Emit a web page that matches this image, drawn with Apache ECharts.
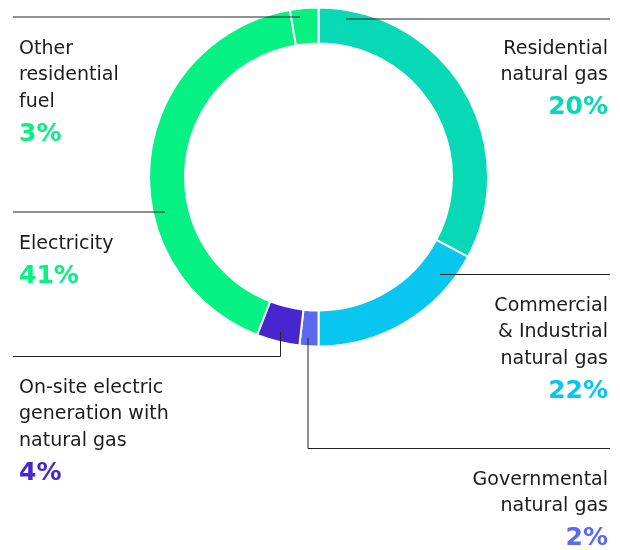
<!DOCTYPE html>
<html>
<head>
<meta charset="utf-8">
<script src="https://cdn.jsdelivr.net/npm/echarts@6/dist/echarts.min.js"></script>
<style>
  html, body { margin: 0; padding: 0; background: #fff; }
  #chart { width: 620px; height: 550px; }
</style>
</head>
<body>
<div id="chart"></div>
<script>
// data, clockwise from 12 o'clock
var categories = [
    'Residential\nnatural gas',
    'Commercial\n& Industrial\nnatural gas',
    'Governmental\nnatural gas',
    'On-site electric\ngeneration with\nnatural gas',
    'Electricity',
    'Other\nresidential\nfuel'
];
var arcShares = [32.8, 17.2, 1.8, 4.1, 41.4, 2.7];      // size of each arc as drawn
var shownPercents = ['20%', '22%', '2%', '4%', '41%', '3%'];  // printed labels

var palette = ['#07d8b5', '#08c6ef', '#5b68f0', '#4526cf', '#06f183', '#08f081'];

// where each label block sits and how its leader line runs
var labelSpots = [
    { x: 608, y: 35.5,  align: 'right', line: [[346, 19], [478, 19], [610, 19]] },
    { x: 608, y: 292.5, align: 'right', line: [[440, 274.5], [525, 274.5], [610, 274.5]] },
    { x: 608, y: 466.5, align: 'right', line: [[308, 338], [308, 448.5], [610, 448.5]] },
    { x: 19,  y: 374.5, align: 'left',  line: [[280.5, 332], [280.5, 356.5], [13, 356.5]] },
    { x: 19,  y: 230.5, align: 'left',  line: [[165, 212], [90, 212], [13, 212]] },
    { x: 19,  y: 35.5,  align: 'left',  line: [[300, 17], [150, 17], [13, 17]] }
];

function buildData(filled) {
    return categories.map(function (name, i) {
        return {
            name: name,
            value: arcShares[i],
            itemStyle: { color: filled ? palette[i] : 'transparent' },
            label: { rich: { p: { color: palette[i] } } }
        };
    });
}

var myChart = echarts.init(document.getElementById('chart'));

var ringCommon = {
    type: 'pie',
    center: [318.5, 177],
    radius: [133.5, 169.5],
    startAngle: 90,
    clockwise: true,
    avoidLabelOverlap: false,
    silent: true
};

var option = {
    animation: false,
    series: [
        // the coloured ring
        Object.assign({}, ringCommon, {
            z: 2,
            itemStyle: { borderColor: '#fff', borderWidth: 2 },
            label: { show: false },
            labelLine: { show: false },
            data: buildData(true)
        }),
        // invisible copy on top, carrying labels and leader lines
        Object.assign({}, ringCommon, {
            z: 4,
            itemStyle: { borderWidth: 0 },
            label: {
                show: true,
                position: 'outside',
                fontFamily: 'DejaVu Sans',
                formatter: function (params) {
                    var lines = params.name.split('\n').map(function (t) {
                        return '{n|' + t + '}';
                    });
                    return lines.join('\n') + '\n{p|' + shownPercents[params.dataIndex] + '}';
                },
                rich: {
                    n: { fontFamily: 'DejaVu Sans', fontSize: 19, lineHeight: 26.5, color: '#1b1b1b' },
                    p: { fontFamily: 'DejaVu Sans', fontSize: 25, fontWeight: 'bold', lineHeight: 38.5 }
                }
            },
            labelLine: {
                show: true,
                smooth: false,
                lineStyle: { color: '#222', width: 1, opacity: 1 }
            },
            labelLayout: function (params) {
                var s = labelSpots[params.dataIndex];
                return {
                    x: s.x,
                    y: s.y,
                    align: s.align,
                    verticalAlign: 'top',
                    labelLinePoints: s.line
                };
            },
            data: buildData(false)
        })
    ]
};

myChart.setOption(option);
</script>
</body>
</html>
